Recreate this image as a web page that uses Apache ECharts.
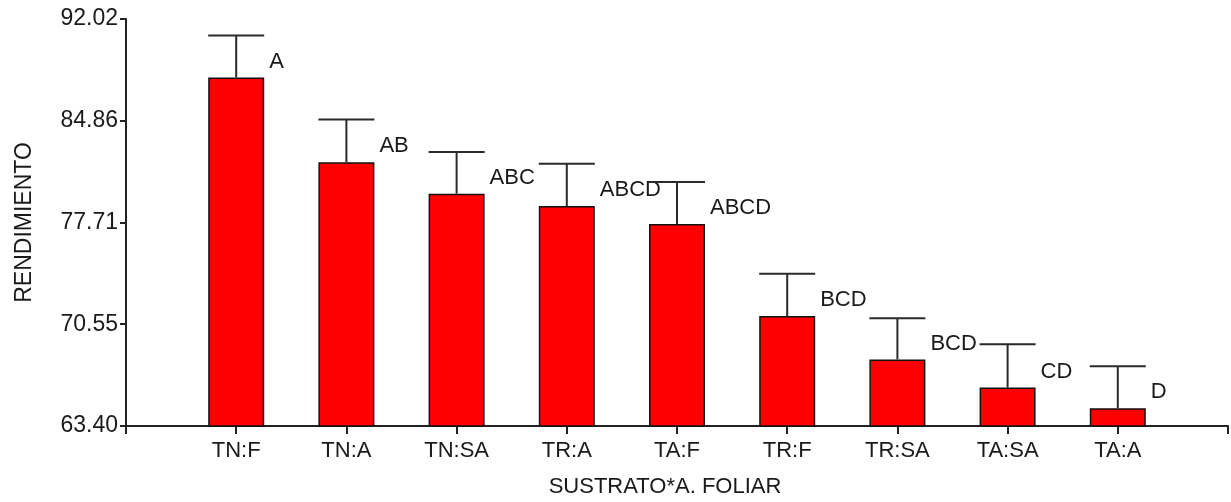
<!DOCTYPE html>
<html>
<head>
<meta charset="utf-8">
<script src="https://cdn.jsdelivr.net/npm/echarts@6/dist/echarts.min.js"></script>
<style>
html,body{margin:0;padding:0;background:#fff;}
#chart{width:1231px;height:502px;}
</style>
</head>
<body>
<div id="chart"></div>
<script>
const categories = ['TN:F','TN:A','TN:SA','TR:A','TA:F','TR:F','TR:SA','TA:SA','TA:A'];
const means = [87.91, 81.95, 79.74, 78.87, 77.60, 71.13, 68.08, 66.10, 64.65];
const upper = [90.86, 84.95, 82.67, 81.85, 80.56, 74.10, 70.98, 69.15, 67.60];
const letters = ['A','AB','ABC','ABCD','ABCD','BCD','BCD','CD','D'];
const yTickLabels = ['63.40','70.55','77.71','84.86','92.02'];
const yMin = 63.40, yMax = 92.02, yInterval = 7.155;

const FONT = 'Liberation Sans, Arial, sans-serif';
const TXT = '#1a1a1a';
const axisCats = [''].concat(categories, ['']);
const barData = means.map((v, i) => [i + 1, v]);
const errData = means.map((v, i) => [i + 1, v, upper[i]]);

const chart = echarts.init(document.getElementById('chart'));
chart.setOption({
  animation: false,
  backgroundColor: '#fff',
  title: [{
    text: 'SUSTRATO*A. FOLIAR', left: 660, top: 471, textAlign: 'center',
    textStyle: {fontFamily: FONT, fontSize: 22, fontWeight: 'normal', color: TXT}
  }],
  grid: {left: 126, right: 1, top: 19, bottom: 76},
  xAxis: {
    type: 'category', data: axisCats, boundaryGap: false,
    axisLine: {lineStyle: {color: '#222', width: 2}},
    axisTick: {length: 8, lineStyle: {color: '#222', width: 2}, interval: 0},
    axisLabel: {interval: 0, margin: 14, fontFamily: FONT, fontSize: 22, color: TXT},
    splitLine: {show: false}
  },
  yAxis: {
    type: 'value', min: yMin, max: yMax, interval: yInterval,
    name: 'RENDIMIENTO', nameLocation: 'middle', nameGap: 90, nameRotate: 90,
    nameTextStyle: {fontFamily: FONT, fontSize: 23, color: TXT},
    axisLine: {show: true, lineStyle: {color: '#222', width: 2}},
    axisTick: {show: true, length: 6, lineStyle: {color: '#222', width: 2}},
    axisLabel: {
      margin: 8, fontFamily: FONT, fontSize: 23, color: TXT,
      formatter: v => yTickLabels[Math.round((v - yMin) / yInterval)] || ''
    },
    splitLine: {show: false}
  },
  series: [
    {
      type: 'bar', data: barData, barWidth: 56,
      itemStyle: {color: '#ff0000', borderColor: '#111', borderWidth: 1.5},
      z: 2
    },
    {
      type: 'custom', data: errData, z: 3,
      renderItem(params, api) {
        const x = api.value(0), m = api.value(1), u = api.value(2);
        const pM = api.coord([x, m]), pU = api.coord([x, u]);
        const hw = 28;
        return {type: 'group', children: [
          {type: 'line', shape: {x1: pM[0], y1: pM[1], x2: pU[0], y2: pU[1]}, style: {stroke: '#2a2a2a', lineWidth: 2}},
          {type: 'line', shape: {x1: pU[0] - hw, y1: pU[1], x2: pU[0] + hw, y2: pU[1]}, style: {stroke: '#2a2a2a', lineWidth: 2}},
          {type: 'text', x: pM[0] + hw + 5, y: pM[1] - 16, style: {
            text: letters[params.dataIndex], fontFamily: FONT, fontSize: 22, fill: TXT,
            align: 'left', verticalAlign: 'middle'
          }}
        ]};
      }
    }
  ]
});
</script>
</body>
</html>
